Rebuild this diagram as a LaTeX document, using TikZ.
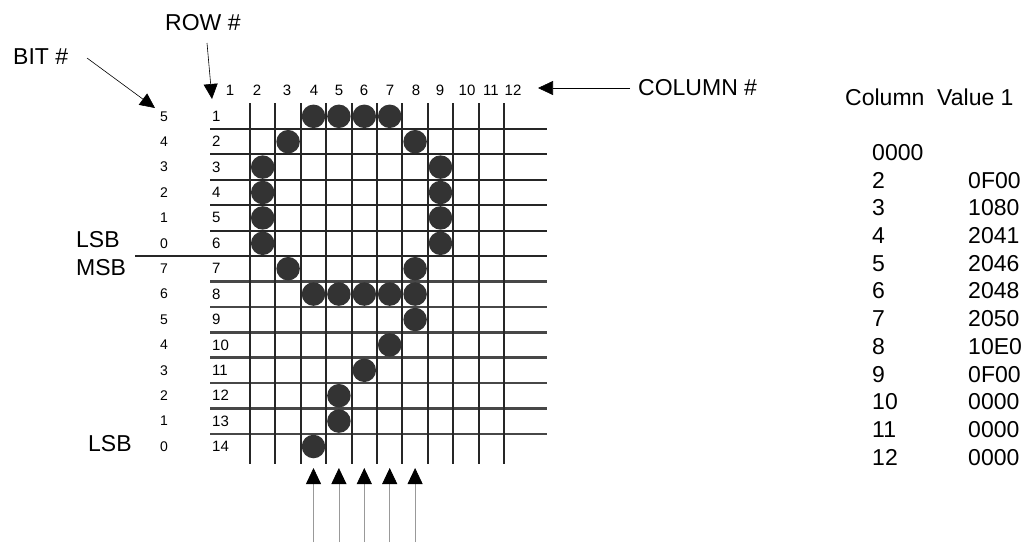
\documentclass[tikz,border=0pt]{standalone}
\usepackage{fontspec}
\setmainfont{Liberation Sans}
\usetikzlibrary{arrows.meta}
\begin{document}
\begin{tikzpicture}[x=1pt,y=-1pt,
  big/.style={font=\fontsize{23}{27}\selectfont, inner sep=0pt},
  small/.style={font=\fontsize{15}{18}\selectfont, inner sep=0pt},
  bitlab/.style={font=\fontsize{14}{17}\selectfont, inner sep=0pt},
  gridline/.style={line width=2pt, draw=black!85},
  softline/.style={line width=2.6pt, draw=black!72},
  dot/.style={circle, fill=black!80, minimum size=23.5pt, inner sep=0pt},
  ptr/.style={line width=0.6pt, -{Triangle[length=15pt,width=14pt]}},
  upptr/.style={line width=0.8pt, draw=black!40, -{Triangle[length=16pt,width=15pt,color=black]}}]
\useasboundingbox (0,0) rectangle (1024,542);
% grid
\foreach \i in {0,...,5}
  \draw[gridline] (210,{129+25.4*\i}) -- (547,{129+25.4*\i});
\foreach \i in {6,...,12}
  \draw[softline] (210,{129+25.4*\i}) -- (547,{129+25.4*\i});
\draw[gridline] (135,256) -- (210,256);
\foreach \j in {0,...,10}
  \draw[gridline] ({250+25.4*\j},103) -- ({250+25.4*\j},464);
% dots
\foreach \r/\c in {1/4,1/5,1/6,1/7,2/3,2/8,3/2,3/9,4/2,4/9,5/2,5/9,6/2,6/9,7/3,7/8,8/4,8/5,8/6,8/7,8/8,9/8,10/7,11/6,12/5,13/5,14/4}
  \node[dot] (d\r-\c) at ({262.7+25.4*(\c-2)},{116.3+25.4*(\r-1)}) {};
% row labels
\foreach \r in {1,...,14}
  \node[small,anchor=west] (r\r) at (212,{116.3+25.4*(\r-1)}) {\r};
% bit labels
\foreach \b [count=\r] in {5,4,3,2,1,0,7,6,5,4,3,2,1,0}
  \node[bitlab] (b\r) at (164,{116.3+25.4*(\r-1)}) {\b};
% column headers
\foreach \x [count=\k] in {230,257,287,314,339,364,390,416,440,467,491,513}
  \node[small] (c\k) at (\x,90) {\k};
% big labels
\node[big,anchor=west] (bit) at (13,56.5) {BIT \#};
\node[big,anchor=west] (row) at (165,22.5) {ROW \#};
\node[big,anchor=west] (col) at (638,88) {COLUMN \#};
\node[big,anchor=west] (lsb) at (76,240) {LSB};
\node[big,anchor=west] (msb) at (76,267.5) {MSB};
\node[big,anchor=west] (lsb2) at (88,444) {LSB};
% arrows
\coordinate (bitS) at (87,58);  \coordinate (bitT) at (155,108);
\coordinate (rowS) at (207,43); \coordinate (rowT) at (212,99);
\coordinate (colS) at (630,88); \coordinate (colT) at (538,88);
\draw[ptr] (bitS) -- (bitT);
\draw[ptr] (rowS) -- (rowT);
\draw[ptr] (colS) -- (colT);
\foreach \c in {4,...,8} {
  \coordinate (ub\c) at ({262.7+25.4*(\c-2)},542);
  \coordinate (ut\c) at ({262.7+25.4*(\c-2)},468);
  \draw[upptr] (ub\c) -- (ut\c);
}
% table
\node[big,anchor=west] (th) at (845,97) {Column\ \ Value 1};
\node[big,anchor=west] (t0) at (872,152.5) {0000};
\foreach \n/\v [count=\k] in {2/0F00,3/1080,4/2041,5/2046,6/2048,7/2050,8/10E0,9/0F00,10/0000,11/0000,12/0000} {
  \node[big,anchor=west] (tc\n) at (872,{152.5+27.7*\k}) {\n};
  \node[big,anchor=west] (tv\n) at (968,{152.5+27.7*\k}) {\v};
}
\end{tikzpicture}
\end{document}
